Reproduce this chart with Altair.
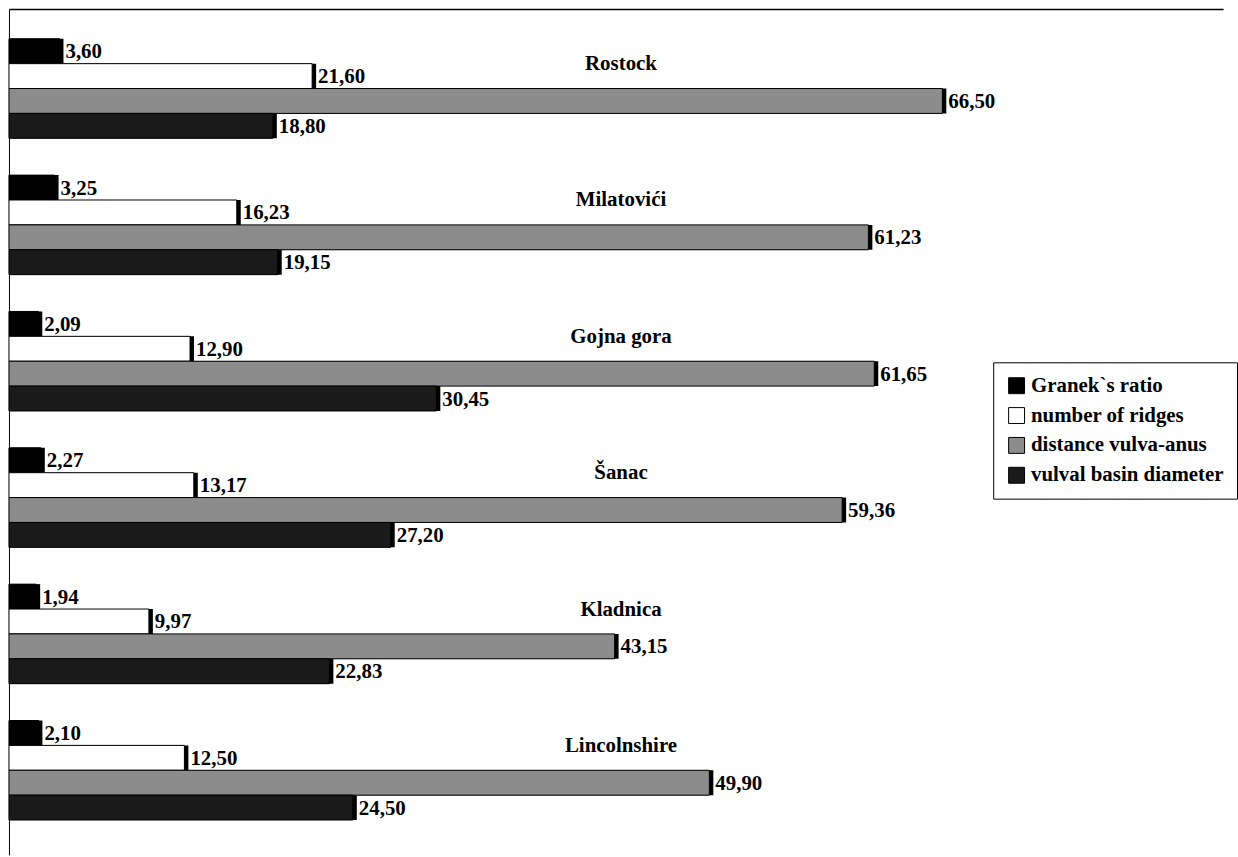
import altair as alt
import pandas as pd

groups = ["Rostock", "Milatovići", "Gojna gora", "Šanac", "Kladnica", "Lincolnshire"]
series = ["Granek`s ratio", "number of ridges", "distance vulva-anus", "vulval basin diameter"]
granek = [3.60, 3.25, 2.09, 2.27, 1.94, 2.10]
ridges = [21.60, 16.23, 12.90, 13.17, 9.97, 12.50]
distance = [66.50, 61.23, 61.65, 59.36, 43.15, 49.90]
basin = [18.80, 19.15, 30.45, 27.20, 22.83, 24.50]
fills = ["#000000", "#ffffff", "#8c8c8c", "#1a1a1a"]

rows = []
for s, vals in zip(series, [granek, ridges, distance, basin]):
    for g, v in zip(groups, vals):
        rows.append({"group": g, "series": s, "value": v,
                     "label": f"{v:.2f}".replace(".", ",")})
df = pd.DataFrame(rows)
gdf = pd.DataFrame({"group": groups, "series": [series[1]] * len(groups)})

FONT = "Liberation Serif"
FS = 21

y_enc = alt.Y("group:N", sort=groups,
              scale=alt.Scale(paddingInner=0.27, paddingOuter=0.237, align=0.46),
              axis=alt.Axis(labels=False, ticks=False, title=None, grid=False,
                            domainColor="black", domainWidth=1, offset=0, minExtent=0))
yo_enc = alt.YOffset("series:N", sort=series,
                     scale=alt.Scale(paddingInner=0, paddingOuter=0))
x_enc = alt.X("value:Q", scale=alt.Scale(domain=[0, 86.5], nice=False),
              axis=alt.Axis(orient="top", labels=False, ticks=False, title=None, grid=False,
                            domainColor="black", domainWidth=1.5, offset=0, minExtent=0))

base = alt.Chart(df)

shadow = base.mark_bar(color="black", xOffset=4, yOffset=4).encode(
    x=x_enc, y=y_enc, yOffset=yo_enc)

bars = base.mark_bar(stroke="black", strokeWidth=1).encode(
    x=x_enc, y=y_enc, yOffset=yo_enc,
    fill=alt.Fill("series:N", sort=series,
                  scale=alt.Scale(domain=series, range=fills),
                  legend=alt.Legend(title=None, orient="none", legendX=989, legendY=355,
                                    symbolType="square", symbolSize=256,
                                    symbolStrokeColor="black", symbolStrokeWidth=1,
                                    labelFont=FONT, labelFontSize=FS, labelFontWeight="bold",
                                    labelColor="black", rowPadding=8, padding=13,
                                    labelOffset=4,
                                    strokeColor="black", labelLimit=400,
                                    fillColor="white")))

vlabels = base.mark_text(align="left", baseline="middle", dx=6, dy=1,
                         font=FONT, fontSize=FS, fontWeight="bold", color="black").encode(
    x=x_enc, y=y_enc, yOffset=yo_enc, text="label:N")

glabels = alt.Chart(gdf).mark_text(align="center", baseline="middle", dy=-12,
                                   font=FONT, fontSize=FS, fontWeight="bold",
                                   color="black").encode(
    x=alt.value(615), y=y_enc, yOffset=yo_enc, text="group:N")

chart = alt.layer(shadow, bars, vlabels, glabels).properties(
    width=1220, height=850,
    padding={"left": 8, "top": 7, "right": 0, "bottom": 0},
    background="white",
).configure_view(stroke=None)

chart.save("out.html", embed_options={"renderer": "svg", "actions": False})
